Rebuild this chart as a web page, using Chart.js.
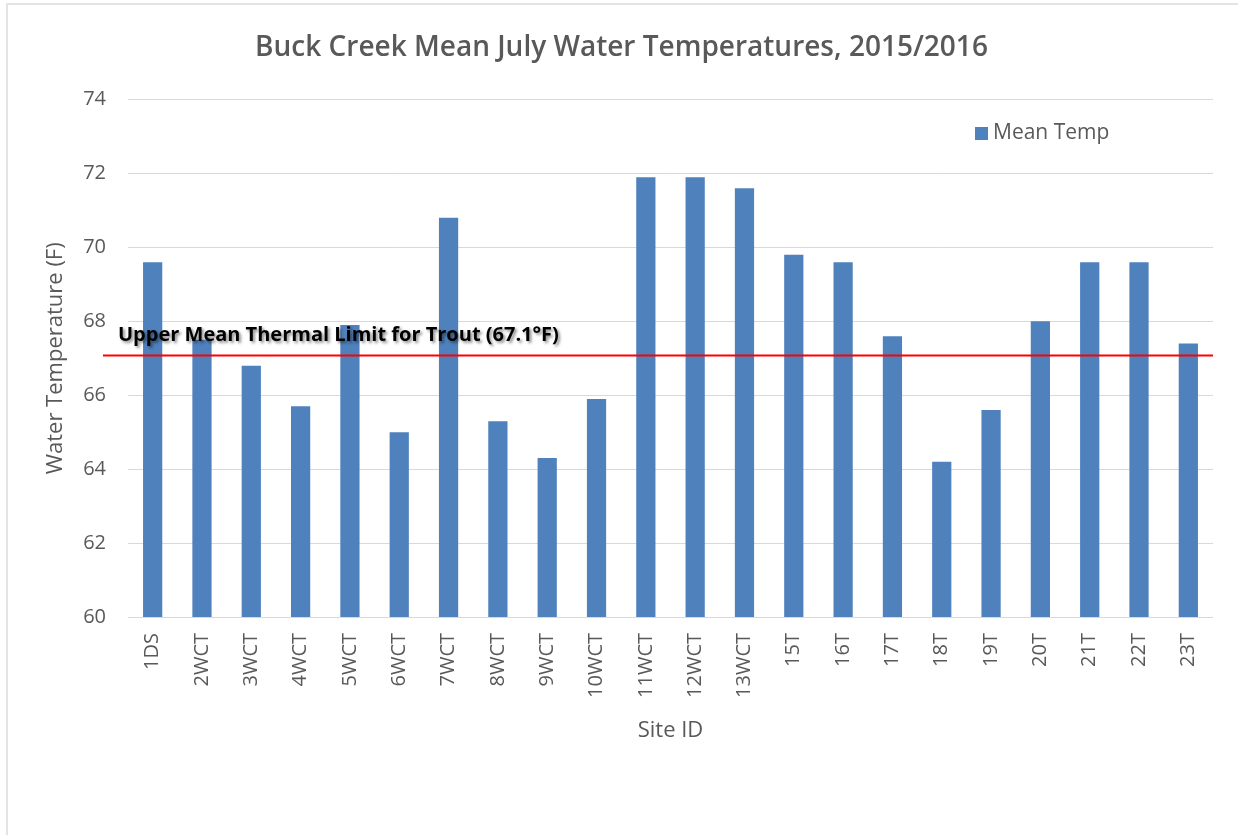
<!DOCTYPE html>
<html><head><meta charset="utf-8">
<script src="https://cdn.jsdelivr.net/npm/chart.js@4"></script>
<style>
html,body{margin:0;padding:0;background:#fff;}
#wrap{position:relative;width:1238px;height:835px;overflow:hidden;background:#fff;}
#frame{position:absolute;left:6px;top:3px;width:1300px;height:900px;border:2px solid #e4e4e4;box-sizing:border-box;}
canvas{position:absolute;left:0;top:0;}
</style></head><body>
<div id="wrap"><div id="frame"></div><canvas id="c" width="1238" height="835"></canvas></div>
<script>
const categories = ['1DS','2WCT','3WCT','4WCT','5WCT','6WCT','7WCT','8WCT','9WCT','10WCT','11WCT','12WCT','13WCT','15T','16T','17T','18T','19T','20T','21T','22T','23T'];
const meanTemp = [69.6,67.5,66.8,65.7,67.9,65.0,70.8,65.3,64.3,65.9,71.9,71.9,71.6,69.8,69.6,67.6,64.2,65.6,68.0,69.6,69.6,67.4];
const yTicks = [60,62,64,66,68,70,72,74];
const limitValue = 67.1;
const limitLabel = 'Upper Mean Thermal Limit for Trout (67.1°F)';
const seriesName = 'Mean Temp';
const chartTitle = 'Buck Creek Mean July Water Temperatures, 2015/2016';
const xTitle = 'Site ID';
const yTitle = 'Water Temperature (F)';

const FONT = "'Open Sans', 'Noto Sans', sans-serif";
const GREY = '#595959';
const BAR = '#4F81BD';

const overlay = {
  id: 'overlay',
  afterDatasetsDraw(chart) {
    const {ctx, chartArea, scales} = chart;
    const y = scales.y.getPixelForValue(limitValue);
    ctx.save();
    ctx.strokeStyle = '#FF0000';
    ctx.lineWidth = 2;
    ctx.beginPath();
    ctx.moveTo(103, y + 1);
    ctx.lineTo(chartArea.right, y + 1);
    ctx.stroke();
    ctx.font = "bold 20px " + FONT;
    ctx.fillStyle = '#000';
    ctx.textBaseline = 'alphabetic';
    ctx.textAlign = 'left';
    ctx.shadowColor = 'rgba(0,0,0,0.45)';
    ctx.shadowOffsetX = 2;
    ctx.shadowOffsetY = 2;
    ctx.shadowBlur = 3;
    ctx.fillText(limitLabel, 118, y - 14);
    ctx.restore();
    ctx.save();
    ctx.fillStyle = BAR;
    ctx.fillRect(975, 127, 13, 13);
    ctx.font = "21px " + FONT;
    ctx.fillStyle = GREY;
    ctx.textBaseline = 'middle';
    ctx.textAlign = 'left';
    ctx.fillText(seriesName, 993, 133);
    ctx.restore();
  }
};

new Chart(document.getElementById('c'), {
  type: 'bar',
  data: {
    labels: categories,
    datasets: [{
      label: seriesName,
      data: meanTemp,
      backgroundColor: BAR,
      borderWidth: 0,
      categoryPercentage: 1,
      barPercentage: 0.39
    }]
  },
  options: {
    responsive: false,
    animation: false,
    devicePixelRatio: 1,
    layout: {padding: {left: 30, right: 25, top: 0, bottom: 75}},
    plugins: {
      legend: {display: false},
      tooltip: {enabled: false},
      title: {
        display: true,
        text: chartTitle,
        color: GREY,
        font: {family: FONT, size: 28, weight: '600', lineHeight: 1.2},
        padding: {top: 31, bottom: 35}
      }
    },
    scales: {
      x: {
        grid: {display: false, drawTicks: false},
        border: {display: false},
        ticks: {
          color: GREY, font: {family: FONT, size: 20},
          minRotation: 90, maxRotation: 90, autoSkip: false, padding: 16
        },
        title: {display: true, text: xTitle, color: GREY,
          font: {family: FONT, size: 22, lineHeight: 1.2}, padding: {top: 0, bottom: 16}},
        afterFit(s) { s.height = 143; }
      },
      y: {
        min: yTicks[0], max: yTicks[yTicks.length - 1],
        afterBuildTicks(s) { s.ticks = yTicks.map(v => ({value: v})); },
        grid: {color: '#d9d9d9', lineWidth: 1, drawTicks: false},
        border: {display: false},
        ticks: {color: GREY, font: {family: FONT, size: 20}, padding: 22},
        title: {display: true, text: yTitle, color: GREY,
          font: {family: FONT, size: 22, lineHeight: 1.2}, padding: {top: 13, bottom: 0}},
        afterFit(s) { s.width = 98; }
      }
    }
  },
  plugins: [overlay]
});
</script>
</body></html>
